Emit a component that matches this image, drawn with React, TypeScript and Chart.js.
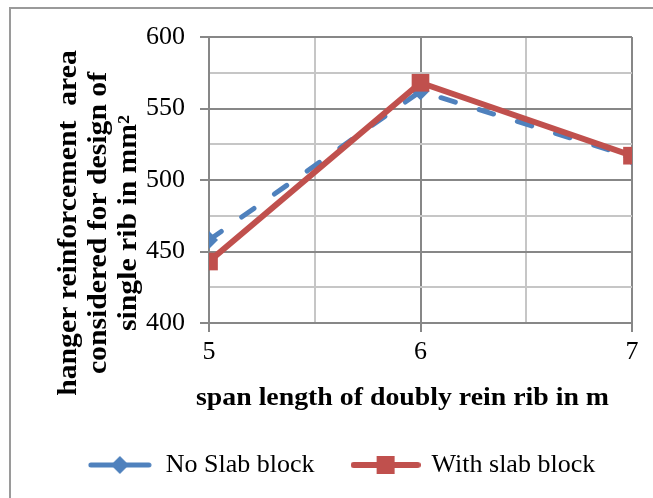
import React, { useEffect, useRef } from 'react';
import { Chart, registerables } from 'chart.js';

Chart.register(...registerables);

// ---- data ----
const spanLengths = [5, 6, 7];
const noSlabBlock = [458, 562, 516];
const withSlabBlock = [443, 568, 517];
const seriesNames = ['No Slab block', 'With slab block'];
const xTitle = 'span length of doubly rein rib in m';
const yTitleLines = ['hanger reinforcement  area', 'considered for design of', 'single rib in mm\u00B2'];
const yMin = 400;
const yMax = 600;
const xMin = 5;
const xMax = 7;

// ---- styles ----
const BLUE = '#4F81BD';
const RED = '#C0504D';
const MAJOR = '#878787';
const MINOR = '#C6C6C6';
const FONT = '"Liberation Serif", "Times New Roman", serif';

function makeIcon(kind: 'diamond' | 'square'): HTMLCanvasElement {
  const c = document.createElement('canvas');
  const ctx = c.getContext('2d')!;
  if (kind === 'diamond') {
    c.width = 64;
    c.height = 22;
    ctx.strokeStyle = BLUE;
    ctx.fillStyle = BLUE;
    ctx.lineWidth = 5;
    ctx.lineCap = 'round';
    ctx.beginPath();
    ctx.moveTo(3, 11);
    ctx.lineTo(25, 11);
    ctx.moveTo(39, 11);
    ctx.lineTo(61, 11);
    ctx.stroke();
    ctx.beginPath();
    ctx.moveTo(32, 2);
    ctx.lineTo(41, 11);
    ctx.lineTo(32, 20);
    ctx.lineTo(23, 11);
    ctx.closePath();
    ctx.fill();
  } else {
    c.width = 70;
    c.height = 22;
    ctx.strokeStyle = RED;
    ctx.fillStyle = RED;
    ctx.lineWidth = 6;
    ctx.lineCap = 'round';
    ctx.beginPath();
    ctx.moveTo(3, 11);
    ctx.lineTo(67, 11);
    ctx.stroke();
    ctx.fillRect(35 - 9, 11 - 9, 18, 18);
  }
  return c;
}

const axisTitlePlugin = {
  id: 'axisTitlePlugin',
  afterLayout(chart: any) {
    // nudge the (single-row) legend to the right, as in the reference
    const lg = chart.legend;
    if (lg) {
      lg.left += 25;
      lg.right += 25;
    }
  },
  afterDraw(chart: any) {
    const { ctx, chartArea: a } = chart;
    ctx.save();
    ctx.fillStyle = '#000';
    ctx.textAlign = 'center';
    ctx.textBaseline = 'alphabetic';
    ctx.font = `bold 26px ${FONT}`;
    ctx.save();
    ctx.translate((a.left + a.right) / 2 - 18, a.bottom + 82);
    ctx.scale(1.07, 1);
    ctx.fillText(xTitle, 0, 0);
    ctx.restore();
    ctx.font = `bold 27px ${FONT}`;
    const cy = (a.top + a.bottom) / 2 + 43;
    yTitleLines.forEach((line, i) => {
      ctx.save();
      ctx.translate(a.left - 133 + i * 30, cy);
      ctx.rotate(-Math.PI / 2);
      ctx.scale(1.1, 1);
      ctx.fillText(line, 0, 0);
      ctx.restore();
    });
    ctx.restore();
  },
};

export default function App() {
  const ref = useRef<HTMLCanvasElement | null>(null);

  useEffect(() => {
    if (!ref.current) return;
    const icons = [makeIcon('diamond'), makeIcon('square')];
    const chart = new Chart(ref.current, {
      type: 'line',
      data: {
        datasets: [
          {
            label: seriesNames[0],
            data: spanLengths.map((x, i) => ({ x, y: noSlabBlock[i] })),
            borderColor: BLUE,
            backgroundColor: BLUE,
            borderWidth: 5,
            borderDash: [15, 25],
            borderCapStyle: 'round',
            pointStyle: 'rectRot',
            pointRadius: 9,
            pointBorderWidth: 0,
            pointBackgroundColor: BLUE,
            tension: 0,
            order: 2,
          },
          {
            label: seriesNames[1],
            data: spanLengths.map((x, i) => ({ x, y: withSlabBlock[i] })),
            borderColor: RED,
            backgroundColor: RED,
            borderWidth: 6,
            borderJoinStyle: 'round',
            pointStyle: 'rect',
            pointRadius: 12.5,
            pointBorderWidth: 0,
            pointBackgroundColor: RED,
            tension: 0,
            order: 1,
          },
        ],
      } as any,
      options: {
        animation: false,
        responsive: false,
        layout: { padding: { left: 0, right: 21, top: 37, bottom: 10 } },
        scales: {
          x: {
            type: 'linear',
            min: xMin,
            max: xMax,
            afterFit: (s: any) => {
              s.height = 91;
            },
            ticks: {
              stepSize: 0.5,
              autoSkip: false,
              maxRotation: 0,
              padding: 5,
              color: '#000',
              font: { family: FONT, size: 26 },
              callback: (v: any) => (Number.isInteger(Number(v)) ? String(v) : ''),
            },
            grid: {
              color: (c: any) => (Number.isInteger(c.tick?.value) ? MAJOR : MINOR),
              lineWidth: 2,
              tickLength: 9,
              tickColor: (c: any) => (Number.isInteger(c.tick?.value) ? MAJOR : 'rgba(0,0,0,0)'),
            },
            border: { color: MAJOR, width: 2 },
          },
          y: {
            min: yMin,
            max: yMax,
            afterFit: (s: any) => {
              s.width = 209;
            },
            ticks: {
              stepSize: 25,
              autoSkip: false,
              padding: 15,
              color: '#000',
              font: { family: FONT, size: 26 },
              callback: (v: any) => (Number(v) % 50 === 0 ? String(v) : ''),
            },
            grid: {
              color: (c: any) => (c.tick && c.tick.value % 50 === 0 ? MAJOR : MINOR),
              lineWidth: 2,
              tickLength: 9,
              tickColor: (c: any) => (c.tick && c.tick.value % 50 === 0 ? MAJOR : 'rgba(0,0,0,0)'),
            },
            border: { color: MAJOR, width: 2 },
          },
        },
        plugins: {
          tooltip: { enabled: false },
          title: { display: false },
          legend: {
            display: true,
            position: 'bottom',
            labels: {
              usePointStyle: true,
              pointStyleWidth: 66,
              padding: 38,
              color: '#000',
              font: { family: FONT, size: 26 },
              sort: (a: any, b: any) => a.datasetIndex - b.datasetIndex,
              generateLabels: (ch: any) => {
                const items = (Chart.defaults.plugins.legend.labels as any).generateLabels(ch);
                return items.map((it: any) => ({ ...it, pointStyle: icons[it.datasetIndex] }));
              },
            },
          },
        },
      } as any,
      plugins: [axisTitlePlugin],
    });
    return () => chart.destroy();
  }, []);

  return (
    <div style={{ position: 'fixed', left: 0, top: 0, width: 653, height: 498, overflow: 'hidden', background: '#fff' }}>
      <div
        style={{
          position: 'absolute',
          left: 9,
          top: 7,
          width: 700,
          height: 600,
          borderLeft: '2px solid #9a9a9a',
          borderTop: '2px solid #9a9a9a',
        }}
      />
      <canvas ref={ref} width={653} height={498} style={{ position: 'absolute', left: 0, top: 0 }} />
    </div>
  );
}
